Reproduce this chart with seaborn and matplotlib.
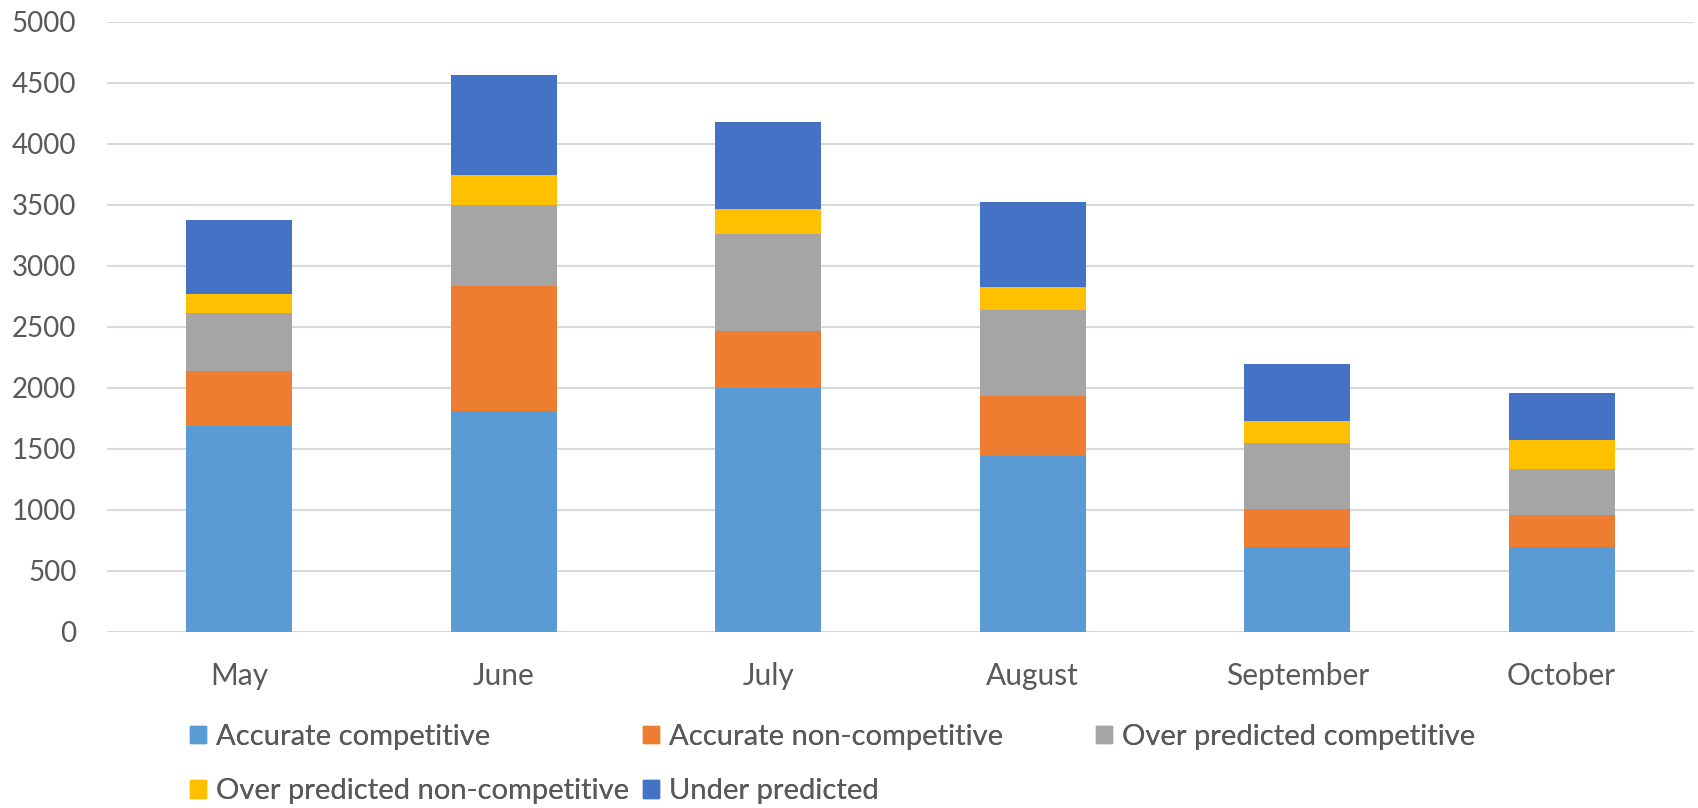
import matplotlib
matplotlib.use("Agg")
import matplotlib.pyplot as plt
import matplotlib.patches as mpatches
import seaborn as sns
import pandas as pd
import numpy as np

months = ["May", "June", "July", "August", "September", "October"]
series_names = ["Accurate competitive", "Accurate non-competitive",
                "Over predicted competitive", "Over predicted non-competitive",
                "Under predicted"]
accurate_competitive = [1687, 1811, 2000, 1442, 690, 690]
accurate_non_competitive = [452, 1025, 467, 493, 317, 262]
over_predicted_competitive = [473, 659, 793, 704, 535, 383]
over_predicted_non_competitive = [152, 245, 207, 187, 183, 235]
under_predicted = [610, 824, 714, 696, 466, 389]
yticks = [0, 500, 1000, 1500, 2000, 2500, 3000, 3500, 4000, 4500, 5000]

colors = ["#5B9BD5", "#ED7D31", "#A5A5A5", "#FFC000", "#4472C4"]
text_color = "#595959"
grid_color = "#D9D9D9"

sns.set_theme(style="white")
plt.rcParams["font.family"] = ["Lato", "DejaVu Sans"]

values = [accurate_competitive, accurate_non_competitive,
          over_predicted_competitive, over_predicted_non_competitive,
          under_predicted]
df = pd.DataFrame({"month": months})
for name, v in zip(series_names, values):
    df[name] = v
cum = df[series_names].cumsum(axis=1)

fig = plt.figure(figsize=(16.98, 8.08), dpi=100)
ax = fig.add_axes([0.063, 0.2184, 0.9346, 0.7546])

ax.set_axisbelow(True)
for y in yticks:
    ax.axhline(y, color=grid_color, lw=1.5, zorder=0)

# draw cumulative totals from the top series down so each segment shows
for i in range(len(series_names) - 1, -1, -1):
    plot_df = pd.DataFrame({"month": months, "total": cum[series_names[i]].values})
    sns.barplot(data=plot_df, x="month", y="total", order=months,
                color=colors[i], saturation=1, width=0.4, ax=ax,
                edgecolor="none", linewidth=0, zorder=2)

ax.set_xlim(-0.5, len(months) - 0.5)
ax.set_ylim(0, 5000)
ax.set_yticks(yticks)
ax.set_yticklabels([str(t) for t in yticks])
ax.set_xlabel("")
ax.set_ylabel("")
for s in ax.spines.values():
    s.set_visible(False)
ax.tick_params(axis="both", length=0, colors=text_color)
ax.tick_params(axis="y", pad=22, labelsize=20)
ax.tick_params(axis="x", pad=22, labelsize=21.5)

# legend laid out like the original (row-major, fixed column positions)
leg_pos = [(0.1117, 0.088), (0.3788, 0.088), (0.6455, 0.088),
           (0.1117, 0.021), (0.3788, 0.021)]
for i, name in enumerate(series_names):
    h = mpatches.Patch(color=colors[i], label=name)
    lg = fig.legend(handles=[h], loc="center left", bbox_to_anchor=leg_pos[i],
                    frameon=False, fontsize=21, handlelength=0.55,
                    handleheight=0.55, handletextpad=0.35, borderpad=0,
                    borderaxespad=0)
    for t in lg.get_texts():
        t.set_color(text_color)
    fig.add_artist(lg)

fig.savefig("out.png", dpi=100)
